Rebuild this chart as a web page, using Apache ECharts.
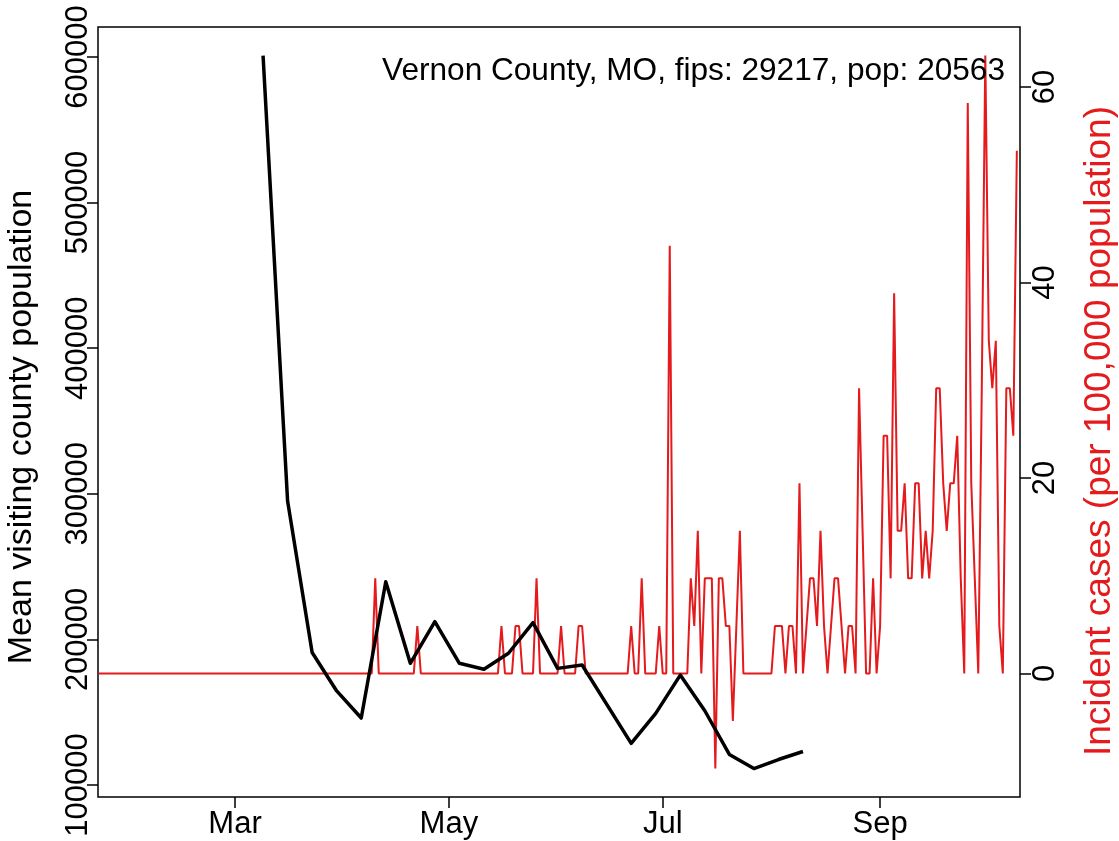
<!DOCTYPE html>
<html><head><meta charset="utf-8">
<script src="https://cdn.jsdelivr.net/npm/echarts@6/dist/echarts.min.js"></script>
<style>html,body{margin:0;padding:0;background:#fff}#c{width:1119px;height:841px}</style>
</head><body><div id="c"></div>
<script>
// ---------------- data ----------------
const titleText = 'Vernon County, MO, fips: 29217, pop: 20563';
const leftAxisName = 'Mean visiting county population';
const rightAxisName = 'Incident cases (per 100,000 population)';
const monthTickDates = ['2020-03-01', '2020-05-01', '2020-07-01', '2020-09-01'];
const monthTickLabels = ['Mar', 'May', 'Jul', 'Sep'];
const leftTicks = [100000, 200000, 300000, 400000, 500000, 600000];
const rightTicks = [0, 20, 40, 60];

// weekly mean visiting county population (black line)
const visitDates = ['2020-03-09','2020-03-16','2020-03-23','2020-03-30','2020-04-06','2020-04-13',
  '2020-04-20','2020-04-27','2020-05-04','2020-05-11','2020-05-18','2020-05-25','2020-06-01',
  '2020-06-08','2020-06-22','2020-06-29','2020-07-06','2020-07-13','2020-07-20','2020-07-27',
  '2020-08-03','2020-08-10'];
const visitValues = [601000, 295000, 191000, 164600, 146000, 239600,
  183600, 212200, 183600, 179500, 190500, 211500, 180100,
  182400, 128600, 149200, 175500, 151000, 121000, 111300,
  117500, 123000];

// daily incident cases per 100,000 (red line), first day 2020-01-22
const caseStartDate = '2020-01-22';
const caseValues = [
  0,0,0,0,0,0,0,0,0,0, 0,0,0,0,0,0,0,0,0,0,
  0,0,0,0,0,0,0,0,0,0, 0,0,0,0,0,0,0,0,0,0,
  0,0,0,0,0,0,0,0,0,0, 0,0,0,0,0,0,0,0,0,0,
  0,0,0,0,0,0,0,0,0,0, 0,0,0,0,0,0,0,0,0,
  9.73,                                   // Apr 10
  0,0,0,0,0,0,0,0,0,0,0,
  4.86,                                   // Apr 22
  0,0,0,0,0,0,0,0,0,0,0,0,0,0,0,0,0,0,0,0,0,0,0,
  4.86,                                   // May 16
  0,0,0,
  4.86,4.86,
  0,0,0,0,
  9.73,                                   // May 26
  0,0,0,0,0,0,
  4.86,                                   // Jun 2
  0,0,0,0,
  4.86,4.86,
  0,0,0,0,0,0,0,0,0,0,0,0,0,
  4.86,                                   // Jun 22
  0,0,
  9.73,
  0,0,0,0,
  4.86,                                   // Jun 30
  0,0,
  43.77,                                  // Jul 3
  0,0,0,0,0,
  9.73,4.86,14.59,0,9.73,9.73,9.73,-9.73,9.73,9.73,   // Jul 9 - Jul 18
  4.86,4.86,-4.86,4.86,14.59,                          // Jul 19 - Jul 23
  0,0,0,0,0,0,0,0,0,                                   // Jul 24 - Aug 1
  4.86,4.86,4.86,0,4.86,4.86,0,19.45,0,4.86,           // Aug 2 - Aug 11
  9.73,9.73,4.86,14.59,4.86,0,4.86,9.73,9.73,4.86,     // Aug 12 - Aug 21
  0,4.86,4.86,0,29.18,14.59,0,0,9.73,0,                // Aug 22 - Aug 31
  4.86,24.32,24.32,9.73,38.91,14.59,14.59,19.45,9.73,9.73, // Sep 1 - Sep 10
  19.45,19.45,9.73,14.59,9.73,14.59,29.18,29.18,19.45,14.59, // Sep 11 - Sep 20
  19.45,19.45,24.32,9.73,0,58.36,19.45,9.73,0,29.18,   // Sep 21 - Sep 30
  63.22,34.04,29.18,34.04,4.86,0,29.18,29.18,24.32,53.49 // Oct 1 - Oct 10
];

// ---------------- helpers ----------------
function toTime(s) { const p = s.split('-').map(Number); return Date.UTC(p[0], p[1] - 1, p[2]); }
const DAY = 86400000;
const mar1 = toTime('2020-03-01');
const monthTickTimes = monthTickDates.map(toTime);
const s0 = caseStartDate.split('-').map(Number);
const caseData = caseValues.map((v, i) => [Date.UTC(s0[0], s0[1] - 1, s0[2] + i), v]);
const visitData = visitDates.map((d, i) => [toTime(d), visitValues[i]]);

const FONT = '"Liberation Sans", Arial, Helvetica, sans-serif';
const RED = '#e41a1c';

const chart = echarts.init(document.getElementById('c'), null, { renderer: 'canvas' });
chart.setOption({
  animation: false,
  backgroundColor: '#ffffff',
  title: {
    text: titleText, right: 114, top: 55, padding: 0,
    textStyle: { fontFamily: FONT, fontSize: 31.6, fontWeight: 'normal', color: '#000' }
  },
  graphic: [{
    type: 'text', x: 22, y: 427, rotation: Math.PI / 2, silent: true,
    style: { text: leftAxisName, font: '34px ' + FONT, fill: '#000', textAlign: 'center', textVerticalAlign: 'middle' }
  }, {
    type: 'text', x: 1100, y: 431, rotation: Math.PI / 2, silent: true,
    style: { text: rightAxisName, font: '37px ' + FONT, fill: RED, textAlign: 'center', textVerticalAlign: 'middle' }
  }],
  grid: {
    left: 98, right: 99, top: 27, bottom: 44, containLabel: false, outerBoundsMode: 'none',
    show: true, borderColor: '#000', borderWidth: 1.5, backgroundColor: 'transparent'
  },
  xAxis: {
    type: 'value',
    min: mar1 - 39.08 * DAY,
    max: mar1 + 223.9 * DAY,
    axisLine: { show: false, onZero: false },
    splitLine: { show: false },
    axisTick: { show: true, length: 11, lineStyle: { color: '#000', width: 1.5 }, customValues: monthTickTimes },
    axisLabel: {
      customValues: monthTickTimes, margin: 12, fontFamily: FONT, fontSize: 31, color: '#000',
      showMinLabel: true, showMaxLabel: true, hideOverlap: false,
      formatter: function (v) {
        let best = 0;
        monthTickTimes.forEach((t, i) => { if (Math.abs(t - v) < Math.abs(monthTickTimes[best] - v)) best = i; });
        return monthTickLabels[best];
      }
    }
  },
  yAxis: [{
    type: 'value', position: 'left',
    min: 91758, max: 620604,
    axisLine: { show: false, onZero: false }, splitLine: { show: false },
    axisTick: { show: true, length: 11, lineStyle: { color: '#000', width: 1.5 }, customValues: leftTicks },
    axisLabel: { customValues: leftTicks, rotate: 90, margin: 4, fontFamily: FONT, fontSize: 31, color: '#000',
      formatter: v => String(v) }
  }, {
    type: 'value', position: 'right',
    min: -12.64, max: 66.14,
    axisLine: { show: false, onZero: false }, splitLine: { show: false },
    axisTick: { show: true, length: 11, lineStyle: { color: '#000', width: 1.5 }, customValues: rightTicks },
    axisLabel: { customValues: rightTicks, rotate: 90, margin: 10, fontFamily: FONT, fontSize: 31, color: '#000',
      formatter: v => String(v) }
  }],
  series: [{
    type: 'line', yAxisIndex: 1, data: caseData, showSymbol: false, symbol: 'none',
    lineStyle: { color: RED, width: 2 }, z: 2
  }, {
    type: 'line', yAxisIndex: 0, data: visitData, showSymbol: false, symbol: 'none',
    lineStyle: { color: '#000', width: 3.5, join: 'round' }, z: 3
  }]
});
</script></body></html>
